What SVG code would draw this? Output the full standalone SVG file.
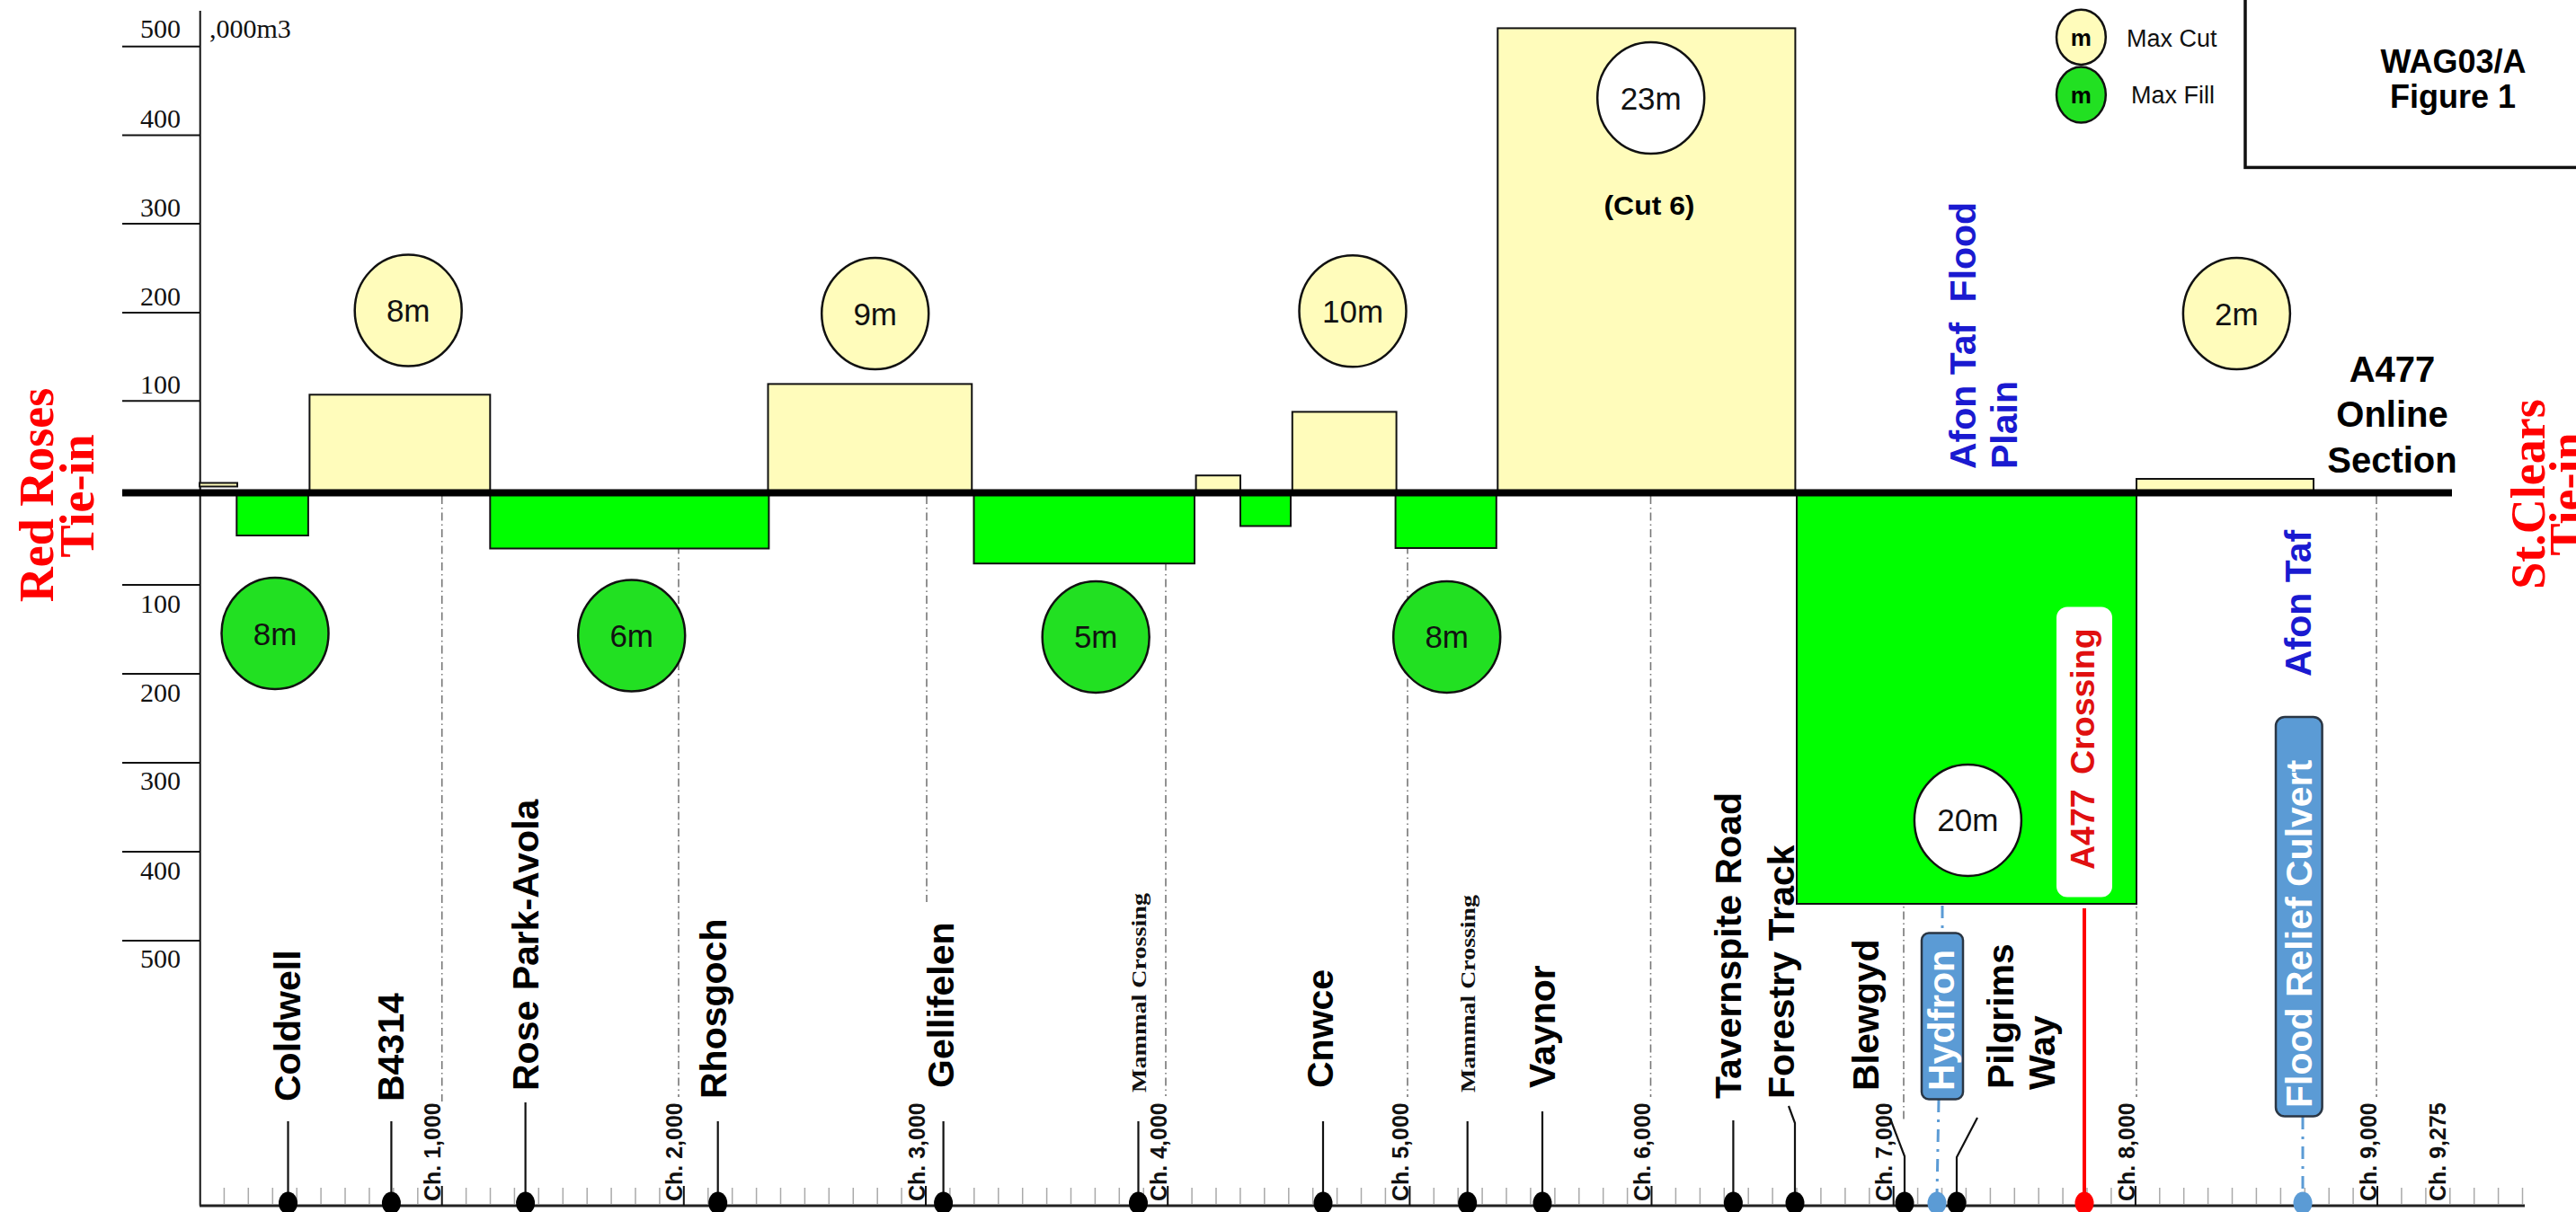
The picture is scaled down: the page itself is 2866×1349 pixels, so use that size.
<svg xmlns="http://www.w3.org/2000/svg" width="2866" height="1349" viewBox="0 0 2866 1349">
<defs>
<style>
.ax{stroke:#111;stroke-width:2;fill:none}
.yl{font-family:"Liberation Serif","Times New Roman",serif;font-size:30px;fill:#111;text-anchor:end}
.dd{stroke:#777;stroke-width:1.6;stroke-dasharray:9 4 1.5 4;fill:none}
.cut{fill:#fffcbb;stroke:#111;stroke-width:2}
.fil{fill:#00ff00;stroke:#111;stroke-width:2}
.cc{fill:#fffcbb;stroke:#111;stroke-width:2.5}
.fc{fill:#22e022;stroke:#111;stroke-width:2.5}
.wc{fill:#ffffff;stroke:#111;stroke-width:2.5}
.ct{font-family:"Liberation Sans",Arial,sans-serif;font-size:35px;text-anchor:middle;fill:#111}
.st{font-family:"Liberation Sans",Arial,sans-serif;font-weight:bold;font-size:41px;fill:#000}
.ch{font-family:"Liberation Sans",Arial,sans-serif;font-weight:bold;font-size:25px;fill:#111}
.mc{font-family:"Liberation Serif","Times New Roman",serif;font-weight:bold;font-size:23px;fill:#111}
.stem{stroke:#111;stroke-width:2.2;fill:none}
.blu{stroke:#5b9bd5;stroke-width:3;stroke-dasharray:14 8 3 8;fill:none}
.red{font-family:"Liberation Serif","Times New Roman",serif;font-weight:bold;font-size:54px;fill:#ff0000;text-anchor:middle}
.bt{font-family:"Liberation Sans",Arial,sans-serif;font-weight:bold;fill:#1a1ad0;font-size:41px}
.tb{font-family:"Liberation Sans",Arial,sans-serif;font-weight:bold;fill:#000;text-anchor:middle}
</style>
</defs>
<rect x="0" y="0" width="2866" height="1349" fill="#ffffff"/>

<g id="axes">
<line class="ax" x1="222.7" y1="12" x2="222.7" y2="1342"/>
<path class="ax" d="M136 51.7H222.7M136 150.4H222.7M136 249H222.7M136 348H222.7M136 446.2H222.7M136 651H222.7M136 750H222.7M136 849H222.7M136 948H222.7M136 1047H222.7"/>
<text class="yl" x="201" y="42">500</text>
<text class="yl" x="201" y="142">400</text>
<text class="yl" x="201" y="241">300</text>
<text class="yl" x="201" y="340">200</text>
<text class="yl" x="201" y="438">100</text>
<text class="yl" x="201" y="682">100</text>
<text class="yl" x="201" y="781">200</text>
<text class="yl" x="201" y="879">300</text>
<text class="yl" x="201" y="979">400</text>
<text class="yl" x="201" y="1077">500</text>
<text class="yl" x="233" y="42" style="text-anchor:start">,000m3</text>
<line x1="222" y1="1342" x2="2809" y2="1342" stroke="#222" stroke-width="3"/>
<path stroke="#aaa" stroke-width="1.5" fill="none" d="M249.4 1322V1340M276.3 1322V1340M303.3 1322V1340M330.2 1322V1340M357.1 1322V1340M384 1322V1340M410.9 1322V1340M437.8 1322V1340M464.8 1322V1340M518.6 1322V1340M545.5 1322V1340M572.4 1322V1340M599.3 1322V1340M626.3 1322V1340M653.2 1322V1340M680.1 1322V1340M707 1322V1340M733.9 1322V1340M787.8 1322V1340M814.7 1322V1340M841.6 1322V1340M868.5 1322V1340M895.4 1322V1340M922.3 1322V1340M949.3 1322V1340M976.2 1322V1340M1003.1 1322V1340M1056.9 1322V1340M1083.8 1322V1340M1110.8 1322V1340M1137.7 1322V1340M1164.6 1322V1340M1191.5 1322V1340M1218.4 1322V1340M1245.3 1322V1340M1272.3 1322V1340M1326.1 1322V1340M1353 1322V1340M1379.9 1322V1340M1406.8 1322V1340M1433.8 1322V1340M1460.7 1322V1340M1487.6 1322V1340M1514.5 1322V1340M1541.4 1322V1340M1595.3 1322V1340M1622.2 1322V1340M1649.1 1322V1340M1676 1322V1340M1702.9 1322V1340M1729.9 1322V1340M1756.8 1322V1340M1783.7 1322V1340M1810.6 1322V1340M1864.4 1322V1340M1891.4 1322V1340M1918.3 1322V1340M1945.2 1322V1340M1972.1 1322V1340M1999 1322V1340M2025.9 1322V1340M2052.9 1322V1340M2079.8 1322V1340M2133.6 1322V1340M2160.5 1322V1340M2187.4 1322V1340M2214.4 1322V1340M2241.3 1322V1340M2268.2 1322V1340M2295.1 1322V1340M2322 1322V1340M2348.9 1322V1340M2402.8 1322V1340M2429.7 1322V1340M2456.6 1322V1340M2483.5 1322V1340M2510.4 1322V1340M2537.4 1322V1340M2564.3 1322V1340M2591.2 1322V1340M2618.1 1322V1340M2671.9 1322V1340M2698.9 1322V1340M2725.8 1322V1340M2752.7 1322V1340M2779.6 1322V1340M2806.5 1322V1340"/>
<path class="ax" d="M491.7 1320V1342M760.8 1320V1342M1030 1320V1342M1299.2 1320V1342M1568.4 1320V1342M1837.5 1320V1342M2106.7 1320V1342M2375.9 1320V1342M2645 1320V1342"/>
<text class="ch" transform="translate(490,1337) rotate(-90)">Ch. 1,000</text>
<text class="ch" transform="translate(759,1337) rotate(-90)">Ch. 2,000</text>
<text class="ch" transform="translate(1028.5,1337) rotate(-90)">Ch. 3,000</text>
<text class="ch" transform="translate(1297.7,1337) rotate(-90)">Ch. 4,000</text>
<text class="ch" transform="translate(1567,1337) rotate(-90)">Ch. 5,000</text>
<text class="ch" transform="translate(1836,1337) rotate(-90)">Ch. 6,000</text>
<text class="ch" transform="translate(2105,1337) rotate(-90)">Ch. 7,000</text>
<text class="ch" transform="translate(2374.5,1337) rotate(-90)">Ch. 8,000</text>
<text class="ch" transform="translate(2643.5,1337) rotate(-90)">Ch. 9,000</text>
<text class="ch" transform="translate(2721,1337) rotate(-90)">Ch. 9,275</text>
</g>

<g id="connectors">
<path class="dd" d="M491.7 552V1226M755 552V1221M1031 552V1004M1297 552V1220M1566 552V1221M1836.5 552V1221M2118 552V1247M2377 552V1221M2644 552V1221"/>
<path class="stem" d="M320.5 1248V1339M435.4 1248V1339M584.6 1227V1339M798.7 1248V1339M1049.6 1248V1339M1266.5 1248V1339M1472 1248V1339M1632.7 1248V1339M1716 1237V1339M1928.4 1247V1339"/>
<path class="stem" d="M1997 1339V1250L1990 1231"/>
<path class="stem" d="M2119 1339V1287L2103 1245"/>
<path class="stem" d="M2177 1339V1288L2200 1244"/>
<path class="blu" d="M2161 1008V1038M2157 1224L2155 1330M2562 1243V1330"/>
<line x1="2319" y1="1011" x2="2319" y2="1339" stroke="#ff0000" stroke-width="4"/>
</g>

<g id="volumes">
<rect class="cut" x="222" y="537.5" width="42" height="4"/>
<rect class="cut" x="344.4" y="439.3" width="200.9" height="109"/>
<rect class="cut" x="854.5" y="427.4" width="226.75" height="121"/>
<rect class="cut" x="1330.6" y="529.2" width="49.4" height="19"/>
<rect class="cut" x="1437.8" y="458.4" width="115.8" height="90"/>
<rect class="cut" x="1666.3" y="31.4" width="331.1" height="517"/>
<rect class="cut" x="2377" y="533" width="197" height="15.4"/>
<rect class="fil" x="263.3" y="548" width="79.6" height="48"/>
<rect class="fil" x="545.3" y="548" width="310.1" height="62.5"/>
<rect class="fil" x="1083.5" y="548" width="245.5" height="79.2"/>
<rect class="fil" x="1380" y="548" width="56" height="37.5"/>
<rect class="fil" x="1552.6" y="548" width="112.2" height="62"/>
<rect class="fil" x="1999" y="548" width="378" height="458"/>
<line x1="136" y1="548.4" x2="2728" y2="548.4" stroke="#000" stroke-width="8"/>
</g>

<g id="cut-8m"><ellipse class="cc" cx="454.2" cy="345.6" rx="59.5" ry="62"/><text class="ct" x="454.2" y="358">8m</text></g>
<g id="cut-9m"><ellipse class="cc" cx="973.7" cy="349" rx="59.5" ry="62"/><text class="ct" x="973.7" y="361.5">9m</text></g>
<g id="cut-10m"><ellipse class="cc" cx="1505" cy="346.3" rx="59.5" ry="62"/><text class="ct" x="1505" y="358.8">10m</text></g>
<g id="cut-23m"><ellipse class="wc" cx="1836.7" cy="109" rx="59.5" ry="62"/><text class="ct" x="1836.7" y="121.5">23m</text>
<text class="tb" x="1835" y="239" font-size="30" textLength="101" lengthAdjust="spacingAndGlyphs">(Cut 6)</text></g>
<g id="cut-2m"><ellipse class="cc" cx="2488.4" cy="349" rx="59.5" ry="62"/><text class="ct" x="2488.4" y="361.5">2m</text></g>
<g id="fill-8m-a"><ellipse class="fc" cx="306" cy="705" rx="59.5" ry="62"/><text class="ct" x="306" y="717.5">8m</text></g>
<g id="fill-6m"><ellipse class="fc" cx="702.7" cy="707.5" rx="59.5" ry="62"/><text class="ct" x="702.7" y="720">6m</text></g>
<g id="fill-5m"><ellipse class="fc" cx="1219.2" cy="708.9" rx="59.5" ry="62"/><text class="ct" x="1219.2" y="721.4">5m</text></g>
<g id="fill-8m-b"><ellipse class="fc" cx="1609.7" cy="708.9" rx="59.5" ry="62"/><text class="ct" x="1609.7" y="721.4">8m</text></g>
<g id="fill-20m"><ellipse class="wc" cx="2189.4" cy="912.9" rx="59.5" ry="62"/><text class="ct" x="2189.4" y="925.4">20m</text></g>

<g id="legend">
<ellipse class="cc" cx="2315.4" cy="41.3" rx="27.4" ry="30.6"/>
<text x="2315.4" y="50.5" font-family="Liberation Sans, Arial, sans-serif" font-weight="bold" font-size="26" text-anchor="middle">m</text>
<ellipse class="fc" cx="2315.4" cy="105.6" rx="27.4" ry="31"/>
<text x="2315.4" y="114.8" font-family="Liberation Sans, Arial, sans-serif" font-weight="bold" font-size="26" text-anchor="middle">m</text>
<text x="2366" y="51.7" font-family="Liberation Sans, Arial, sans-serif" font-size="27" fill="#111">Max Cut</text>
<text x="2371" y="114.8" font-family="Liberation Sans, Arial, sans-serif" font-size="27" fill="#111">Max Fill</text>
</g>

<g id="title">
<rect x="2498" y="-5" width="380" height="191.4" fill="#fff" stroke="#111" stroke-width="3.5"/>
<text class="tb" x="2729.6" y="81" font-size="36">WAG03/A</text>
<text class="tb" x="2729" y="119.5" font-size="36">Figure 1</text>
</g>

<g id="tie-in-left">
<text class="red" transform="translate(59,551) rotate(-90)">Red Roses</text>
<text class="red" transform="translate(104,552) rotate(-90)">Tie-in</text>
</g>
<g id="tie-in-right">
<text class="red" transform="translate(2831,550) rotate(-90)">St.Clears</text>
<text class="red" transform="translate(2874,550) rotate(-90)">Tie-in</text>
</g>

<g id="a477-online">
<text class="tb" x="2661.5" y="424.8" font-size="40">A477</text>
<text class="tb" x="2661.5" y="474.5" font-size="40">Online</text>
<text class="tb" x="2661.5" y="526" font-size="40">Section</text>
</g>

<g id="afon-taf-flood-plain">
<text class="bt" transform="translate(2198,522) rotate(-90)">Afon Taf <tspan dx="11">Flood</tspan></text>
<text class="bt" transform="translate(2244,522) rotate(-90)">Plain</text>
</g>
<g id="afon-taf"><text class="bt" transform="translate(2571,753) rotate(-90)">Afon Taf</text></g>

<g id="st-coldwell"><ellipse cx="320.5" cy="1339" rx="10.5" ry="12.5"/><text class="st" transform="translate(333.5,1226) rotate(-90)">Coldwell</text></g>
<g id="st-b4314"><ellipse cx="435.4" cy="1339" rx="10.5" ry="12.5"/><text class="st" transform="translate(448.5,1226) rotate(-90)">B4314</text></g>
<g id="st-rosepark"><ellipse cx="584.6" cy="1339" rx="10.5" ry="12.5"/><text class="st" transform="translate(598.5,1214) rotate(-90)">Rose Park-Avola</text></g>
<g id="st-rhosgoch"><ellipse cx="798.7" cy="1339" rx="10.5" ry="12.5"/><text class="st" transform="translate(808,1223) rotate(-90)">Rhosgoch</text></g>
<g id="st-gellifelen"><ellipse cx="1049.6" cy="1339" rx="10.5" ry="12.5"/><text class="st" transform="translate(1060.5,1211) rotate(-90)">Gellifelen</text></g>
<g id="st-mammal-1"><ellipse cx="1266.5" cy="1339" rx="10.5" ry="12.5"/><text class="mc" transform="translate(1274.5,1216) rotate(-90)" textLength="222" lengthAdjust="spacingAndGlyphs">Mammal Crossing</text></g>
<g id="st-cnwce"><ellipse cx="1472" cy="1339" rx="10.5" ry="12.5"/><text class="st" transform="translate(1482.5,1211) rotate(-90)">Cnwce</text></g>
<g id="st-mammal-2"><ellipse cx="1632.7" cy="1339" rx="10.5" ry="12.5"/><text class="mc" transform="translate(1640.7,1216) rotate(-90)" textLength="220" lengthAdjust="spacingAndGlyphs">Mammal Crossing</text></g>
<g id="st-vaynor"><ellipse cx="1716" cy="1339" rx="10.5" ry="12.5"/><text class="st" transform="translate(1729.5,1211) rotate(-90)">Vaynor</text></g>
<g id="st-tavernspite"><ellipse cx="1928.4" cy="1339" rx="10.5" ry="12.5"/><text class="st" transform="translate(1936.5,1223) rotate(-90)">Tavernspite Road</text></g>
<g id="st-forestry"><ellipse cx="1997" cy="1339" rx="10.5" ry="12.5"/><text class="st" transform="translate(1995.5,1223) rotate(-90)">Forestry Track</text></g>
<g id="st-blewgyd"><ellipse cx="2119" cy="1339" rx="10.5" ry="12.5"/><text class="st" transform="translate(2089.5,1214) rotate(-90)">Blewgyd</text></g>
<g id="st-hydfron"><ellipse cx="2155" cy="1339" rx="10.5" ry="12.5" fill="#5b9bd5"/>
<rect x="2138" y="1038.5" width="46" height="185" rx="8" fill="#5b9bd5" stroke="#2a3644" stroke-width="2.5"/>
<text class="st" transform="translate(2173.5,1214) rotate(-90)" style="fill:#fff">Hydfron</text></g>
<g id="st-pilgrims"><ellipse cx="2177" cy="1339" rx="10.5" ry="12.5"/>
<text class="st" transform="translate(2239.5,1212) rotate(-90)">Pilgrims</text>
<text class="st" transform="translate(2285.5,1213) rotate(-90)">Way</text></g>
<g id="st-a477-crossing"><ellipse cx="2319" cy="1339" rx="10.5" ry="12.5" fill="#ff0000"/>
<rect x="2288" y="675.5" width="62" height="323" rx="12" fill="#fff"/>
<text class="st" transform="translate(2329.5,968) rotate(-90)" style="fill:#e01010;font-size:37.5px;word-spacing:6px">A477 Crossing</text></g>
<g id="st-culvert"><ellipse cx="2562" cy="1339" rx="10.5" ry="12.5" fill="#5b9bd5"/>
<rect x="2532" y="798" width="51.6" height="444.5" rx="10" fill="#5b9bd5" stroke="#2a3644" stroke-width="2.5"/>
<text class="st" transform="translate(2571.5,1233) rotate(-90)" style="fill:#fff">Flood Relief Culvert</text></g>
</svg>
